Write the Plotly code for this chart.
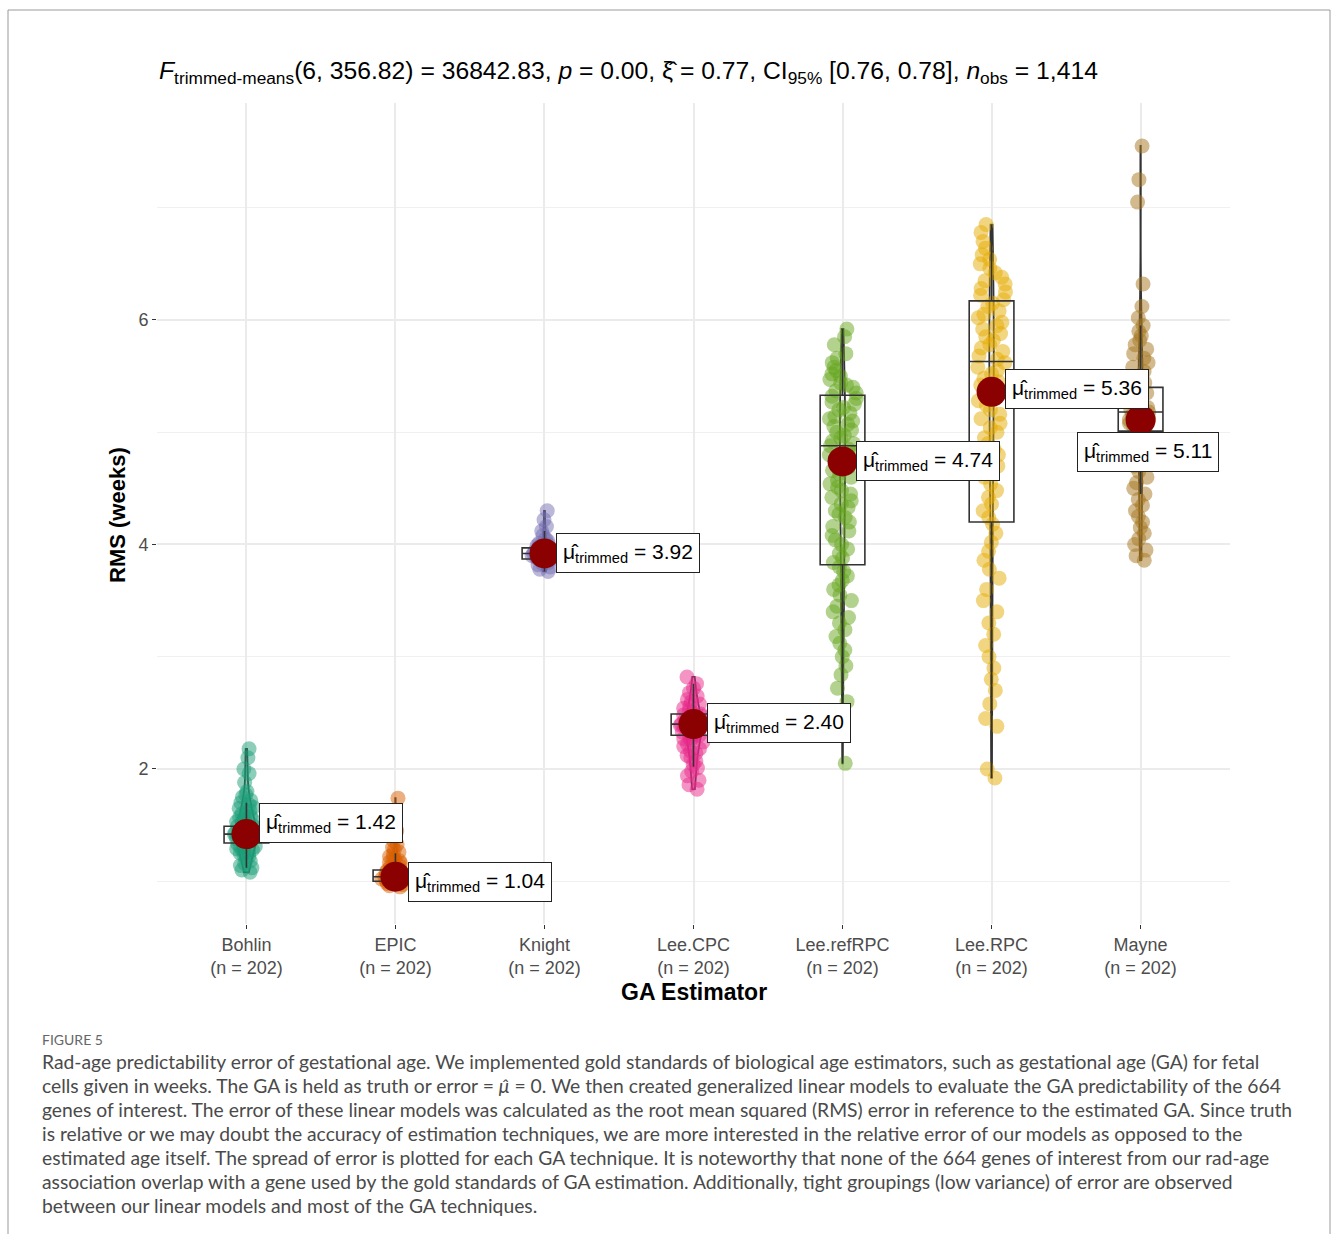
import plotly.graph_objects as go

# ---------------- data ----------------
categories = ["Bohlin", "EPIC", "Knight", "Lee.CPC", "Lee.refRPC", "Lee.RPC", "Mayne"]
n_obs = [202, 202, 202, 202, 202, 202, 202]

bohlin = [2.18, 2.10, 2.00, 1.96, 1.88, 1.80, 1.77, 1.75, 1.72, 1.70, 1.68, 1.66, 1.65, 1.63, 1.62,
          1.60, 1.58, 1.57, 1.56, 1.55, 1.54, 1.53, 1.52, 1.51, 1.50, 1.49, 1.48, 1.47, 1.46, 1.45,
          1.45, 1.44, 1.43, 1.43, 1.42, 1.42, 1.41, 1.41, 1.40, 1.40, 1.39, 1.38, 1.38, 1.37, 1.36,
          1.35, 1.34, 1.33, 1.32, 1.31, 1.30, 1.29, 1.28, 1.27, 1.26, 1.25, 1.24, 1.22, 1.20, 1.18,
          1.16, 1.14, 1.12, 1.10, 1.08]
epic = [1.74, 1.62, 1.45, 1.40, 1.36, 1.33, 1.30, 1.28, 1.26, 1.24, 1.22, 1.20, 1.19, 1.18, 1.17,
        1.16, 1.15, 1.14, 1.13, 1.12, 1.11, 1.10, 1.10, 1.09, 1.08, 1.08, 1.07, 1.07, 1.06, 1.06,
        1.05, 1.05, 1.04, 1.04, 1.04, 1.03, 1.03, 1.03, 1.02, 1.02, 1.02, 1.01, 1.01, 1.01, 1.00,
        1.00, 1.00, 0.99, 0.99, 0.98, 0.98, 0.97, 0.96, 0.95]
knight = [4.30, 4.22, 4.16, 4.12, 4.08, 4.05, 4.03, 4.01, 4.00, 3.99, 3.98, 3.97, 3.96, 3.95, 3.95,
          3.94, 3.94, 3.93, 3.93, 3.92, 3.92, 3.92, 3.91, 3.91, 3.90, 3.90, 3.89, 3.89, 3.88, 3.88,
          3.87, 3.86, 3.85, 3.84, 3.83, 3.82, 3.80, 3.78, 3.76]
lee_cpc = [2.82, 2.76, 2.72, 2.68, 2.65, 2.62, 2.60, 2.58, 2.56, 2.54, 2.52, 2.50, 2.49, 2.48, 2.47,
           2.46, 2.45, 2.44, 2.43, 2.42, 2.41, 2.40, 2.40, 2.39, 2.38, 2.37, 2.36, 2.35, 2.34, 2.33,
           2.32, 2.31, 2.30, 2.29, 2.28, 2.27, 2.26, 2.24, 2.22, 2.20, 2.18, 2.16, 2.14, 2.12, 2.10,
           2.07, 2.04, 2.01, 1.98, 1.94, 1.90, 1.86, 1.82]
lee_refrpc = [5.92, 5.85, 5.78, 5.70, 5.66, 5.62, 5.58, 5.55, 5.52, 5.50, 5.47, 5.44, 5.42, 5.40,
              5.37, 5.35, 5.32, 5.30, 5.27, 5.25, 5.22, 5.20, 5.17, 5.14, 5.12, 5.10, 5.07, 5.05,
              5.02, 5.00, 4.97, 4.95, 4.92, 4.90, 4.88, 4.85, 4.82, 4.80, 4.77, 4.74, 4.72, 4.69,
              4.66, 4.63, 4.60, 4.57, 4.54, 4.51, 4.48, 4.45, 4.42, 4.39, 4.36, 4.33, 4.30, 4.27,
              4.24, 4.20, 4.16, 4.12, 4.08, 4.04, 4.00, 3.96, 3.92, 3.88, 3.84, 3.80, 3.76, 3.72,
              3.68, 3.64, 3.60, 3.55, 3.50, 3.45, 3.40, 3.35, 3.30, 3.24, 3.18, 3.12, 3.06, 3.00,
              2.92, 2.84, 2.72, 2.60, 2.48, 2.05]
lee_rpc = [6.85, 6.78, 6.70, 6.64, 6.58, 6.54, 6.50, 6.46, 6.42, 6.38, 6.35, 6.32, 6.28, 6.25, 6.22,
           6.18, 6.15, 6.12, 6.08, 6.05, 6.02, 5.98, 5.95, 5.92, 5.88, 5.85, 5.82, 5.78, 5.75, 5.72,
           5.68, 5.65, 5.62, 5.58, 5.55, 5.52, 5.48, 5.45, 5.42, 5.38, 5.35, 5.32, 5.28, 5.24, 5.20,
           5.16, 5.12, 5.08, 5.04, 5.00, 4.95, 4.90, 4.85, 4.80, 4.75, 4.70, 4.65, 4.60, 4.54, 4.48,
           4.42, 4.36, 4.30, 4.24, 4.18, 4.10, 4.02, 3.94, 3.86, 3.78, 3.70, 3.60, 3.50, 3.40, 3.30,
           3.20, 3.10, 3.00, 2.90, 2.80, 2.70, 2.58, 2.45, 2.38, 2.00, 1.92]
mayne = [7.55, 7.25, 7.05, 6.32, 6.12, 6.02, 5.95, 5.90, 5.86, 5.82, 5.78, 5.74, 5.70, 5.66, 5.62,
         5.58, 5.54, 5.50, 5.47, 5.44, 5.41, 5.38, 5.35, 5.32, 5.30, 5.27, 5.25, 5.22, 5.20, 5.18,
         5.17, 5.16, 5.15, 5.14, 5.13, 5.12, 5.11, 5.10, 5.08, 5.06, 5.04, 5.02, 5.00, 4.97, 4.94,
         4.90, 4.86, 4.82, 4.78, 4.74, 4.70, 4.65, 4.60, 4.55, 4.50, 4.45, 4.40, 4.35, 4.30, 4.25,
         4.20, 4.15, 4.10, 4.05, 4.00, 3.95, 3.90, 3.86]

group_values = [bohlin, epic, knight, lee_cpc, lee_refrpc, lee_rpc, mayne]

box_q1 = [1.34, 1.00, 3.87, 2.30, 3.82, 4.20, 5.01]
box_median = [1.42, 1.04, 3.92, 2.40, 4.88, 5.63, 5.18]
box_q3 = [1.49, 1.10, 3.97, 2.49, 5.33, 6.17, 5.40]
box_low = [1.12, 0.95, 3.76, 2.02, 2.05, 1.92, 4.45]
box_high = [1.70, 1.25, 4.12, 2.76, 5.92, 6.85, 5.95]

trimmed_means = [1.42, 1.04, 3.92, 2.40, 4.74, 5.36, 5.11]

# ---------------- styles ----------------
colors = ["#1B9E77", "#D95F02", "#7570B3", "#E7298A", "#66A61E", "#E6AB02", "#A6761D"]
violin_widths = [0.14, 0.07, 0.10, 0.11, 0.035, 0.03, 0.035]
label_xshift = [13, 13, 12, 13, 13, 13, -64]
label_yshift = [11, -5, 0, 1, 0, 3, -32]

W, H = 1334, 1234
FONT = "Liberation Sans, Arial"


def rgba(hexc, a):
    hexc = hexc.lstrip("#")
    r, g, b = int(hexc[0:2], 16), int(hexc[2:4], 16), int(hexc[4:6], 16)
    return f"rgba({r},{g},{b},{a})"


fig = go.Figure()

# jittered points
for cat, vals, col in zip(categories, group_values, colors):
    fig.add_trace(go.Box(
        x=[cat] * len(vals), y=vals, boxpoints="all", jitter=1, pointpos=0,
        width=0.19, marker=dict(color=rgba(col, 0.5), size=15, line=dict(width=0)),
        line=dict(width=0, color="rgba(0,0,0,0)"), fillcolor="rgba(0,0,0,0)",
        hoveron="points", showlegend=False))

# boxes
for i, cat in enumerate(categories):
    fig.add_trace(go.Box(
        x=[cat], q1=[box_q1[i]], median=[box_median[i]], q3=[box_q3[i]],
        lowerfence=[box_low[i]], upperfence=[box_high[i]],
        width=0.3, whiskerwidth=0, boxpoints=False,
        line=dict(color="#333333", width=1.6), fillcolor="rgba(0,0,0,0)",
        showlegend=False))

# violins
for i, (cat, vals) in enumerate(zip(categories, group_values)):
    fig.add_trace(go.Violin(
        x=[cat] * len(vals), y=vals, points=False, spanmode="hard",
        width=violin_widths[i], scalemode="width",
        line=dict(color="#333333", width=1.8), fillcolor="rgba(0,0,0,0)",
        box_visible=False, meanline_visible=False, showlegend=False))

# trimmed means
fig.add_trace(go.Scatter(
    x=categories, y=trimmed_means, mode="markers",
    marker=dict(color="#8B0000", size=30, line=dict(width=0)), showlegend=False))

annotations = []
for i, cat in enumerate(categories):
    annotations.append(dict(
        x=cat, y=trimmed_means[i], xref="x", yref="y",
        text=f"μ\u0302<sub>trimmed</sub> = {trimmed_means[i]:.2f}",
        showarrow=False, xanchor="left", yanchor="middle",
        xshift=label_xshift[i], yshift=label_yshift[i],
        font=dict(family=FONT, size=21, color="#000000"),
        bgcolor="#FFFFFF", bordercolor="#222222", borderwidth=1, borderpad=6))

# title
annotations.append(dict(
    x=157 / W, y=1 - 72 / H, xref="paper", yref="paper", xanchor="left", yanchor="middle",
    showarrow=False,
    text=("<i>F</i><sub>trimmed-means</sub>(6, 356.82) = 36842.83, <i>p</i> = 0.00, "
          "ξ\u0302 = 0.77, CI<sub>95%</sub> [0.76, 0.78], <i>n</i><sub>obs</sub> = 1,414"),
    font=dict(family=FONT, size=24.7, color="#000000")))

# axis titles
annotations.append(dict(
    x=694 / W, y=1 - 992 / H, xref="paper", yref="paper", xanchor="center", yanchor="middle",
    showarrow=False, text="<b>GA Estimator</b>",
    font=dict(family=FONT, size=23, color="#000000")))
annotations.append(dict(
    x=118 / W, y=1 - 515 / H, xref="paper", yref="paper", xanchor="center", yanchor="middle",
    showarrow=False, text="<b>RMS (weeks)</b>", textangle=-90,
    font=dict(family=FONT, size=22, color="#000000")))

# caption
caption_lines = [
    "Rad-age predictability error of gestational age. We implemented gold standards of biological age estimators, such as gestational age (GA) for fetal",
    "cells given in weeks. The GA is held as truth or error = <i>μ\u0302</i> = 0. We then created generalized linear models to evaluate the GA predictability of the 664",
    "genes of interest. The error of these linear models was calculated as the root mean squared (RMS) error in reference to the estimated GA. Since truth",
    "is relative or we may doubt the accuracy of estimation techniques, we are more interested in the relative error of our models as opposed to the",
    "estimated age itself. The spread of error is plotted for each GA technique. It is noteworthy that none of the 664 genes of interest from our rad-age",
    "association overlap with a gene used by the gold standards of GA estimation. Additionally, tight groupings (low variance) of error are observed",
    "between our linear models and most of the GA techniques.",
]
annotations.append(dict(
    x=40 / W, y=1 - 1039 / H, xref="paper", yref="paper", xanchor="left", yanchor="middle",
    showarrow=False, text="FIGURE 5",
    font=dict(family="Lato", size=14, color="#666666")))
for k, line in enumerate(caption_lines):
    annotations.append(dict(
        x=40 / W, y=1 - (1061 + 24 * k) / H, xref="paper", yref="paper",
        xanchor="left", yanchor="middle", showarrow=False, text=line,
        font=dict(family="Lato", size=19.3, color="#4a4a4a")))

fig.update_layout(
    width=W, height=H,
    margin=dict(l=0, r=0, t=0, b=0),
    paper_bgcolor="#FFFFFF", plot_bgcolor="#FFFFFF",
    boxmode="overlay", violinmode="overlay",
    showlegend=False,
    annotations=annotations,
    shapes=[dict(type="rect", xref="paper", yref="paper",
                 x0=8 / W, x1=1330 / W, y0=-0.02, y1=1 - 10 / H,
                 line=dict(color="#9a9a9a", width=1), fillcolor="rgba(0,0,0,0)", layer="below")],
    xaxis=dict(
        domain=[157 / W, 1230 / W], type="category",
        categoryorder="array", categoryarray=categories,
        range=[-0.6, 6.6],
        tickvals=categories,
        ticktext=[f"{c}<br>(n = {n})" for c, n in zip(categories, n_obs)],
        tickfont=dict(family=FONT, size=18, color="#4d4d4d"),
        ticks="outside", ticklen=4, tickcolor="#333333", tickwidth=1,
        showgrid=True, gridcolor="#ebebeb", gridwidth=1.5,
        zeroline=False, showline=False),
    yaxis=dict(
        domain=[1 - 924 / H, 1 - 103 / H],
        range=[0.619, 7.933],
        tickvals=[2, 4, 6],
        tickfont=dict(family=FONT, size=18, color="#4d4d4d"),
        ticks="outside", ticklen=4, tickcolor="#333333", tickwidth=1,
        showgrid=True, gridcolor="#ebebeb", gridwidth=1.5,
        minor=dict(tickvals=[1, 3, 5, 7], showgrid=True, gridcolor="#f0f0f0", gridwidth=1, ticks=""),
        zeroline=False, showline=False),
)

fig.write_html("out.html", config={"displayModeBar": False},
               post_script="document.body.style.margin='0';document.body.style.overflow='hidden';")
